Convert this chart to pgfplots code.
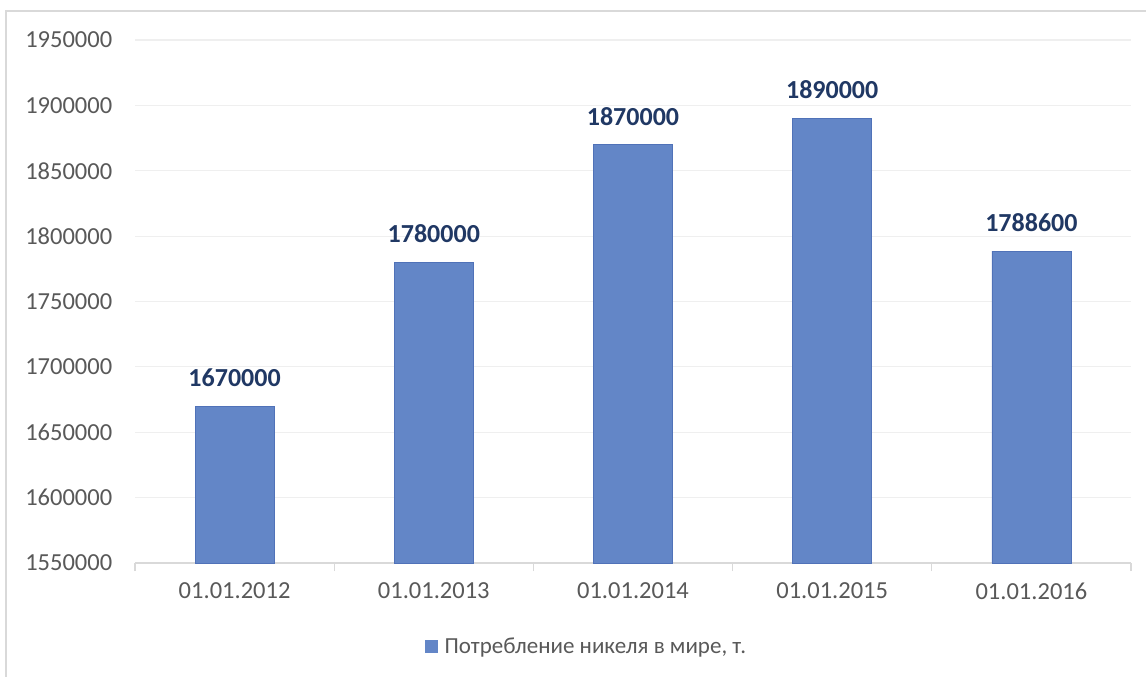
\documentclass[border=0pt]{standalone}
\usepackage{pgfplots}
\pgfplotsset{compat=1.18}
\usepackage{fontspec}
\setmainfont{Carlito}
\definecolor{barfill}{HTML}{6386C7}
\definecolor{baredge}{HTML}{5072B8}
\definecolor{lbl}{HTML}{203864}
\definecolor{tickc}{HTML}{595959}
\definecolor{axc}{HTML}{D9D9D9}
\definecolor{gridc}{HTML}{EFEFEF}
\pgfplotstableread{
x y lab
0 1670000 1670000
1 1780000 1780000
2 1870000 1870000
3 1890000 1890000
4 1788600 1788600
}\data
\begin{document}
\begin{tikzpicture}
\useasboundingbox (0pt,0pt) rectangle (1146pt,-677pt);
\fill[white] (0pt,0pt) rectangle (1146pt,-677pt);
\draw[axc, line width=2pt] (6pt,-677pt) -- (6pt,-11pt) -- (1146pt,-11pt);
\begin{axis}[
  at={(135pt,-563pt)}, anchor=south west,
  scale only axis, width=996pt, height=523pt,
  xmin=-0.5, xmax=4.5, ymin=1550000, ymax=1950000,
  axis x line*=bottom, axis y line*=left,
  x axis line style={draw=axc, line width=1.2pt, -},
  y axis line style={draw=none},
  ytick={1550000,1600000,1650000,1700000,1750000,1800000,1850000,1900000,1950000},
  yticklabels={1550000,1600000,1650000,1700000,1750000,1800000,1850000,1900000,1950000},
  ymajorgrids, grid style={draw=gridc, line width=1.2pt},
  major y tick style={draw=none},
  xtick={0,1,2,3,4},
  xticklabels={01.01.2012,01.01.2013,01.01.2014,01.01.2015,01.01.2016},
  major x tick style={draw=none},
  minor xtick={-0.5,0.5,1.5,2.5,3.5,4.5},
  minor x tick style={draw=axc, line width=1.2pt},
  minor tick length=8pt, tick align=outside,
  tick label style={font=\fontsize{24.5}{28}\selectfont, text=tickc},
  yticklabel style={xshift=-15pt},
  xticklabel style={yshift=-12pt},
  scaled y ticks=false,
  ybar, bar width=79pt,
  point meta=explicit symbolic,
  nodes near coords,
  nodes near coords style={font=\bfseries\fontsize{26}{30}\selectfont, text=lbl, anchor=south, inner sep=0pt, yshift=19pt},
  legend style={at={(0.4533,-0.1587)}, anchor=center, draw=none, fill=none,
    font=\fontsize{23}{26}\selectfont, text=tickc, column sep=5pt},
  legend image code/.code={\fill[barfill] (-6pt,-6pt) rectangle (6pt,6pt);},
  clip=false,
]
\addplot[fill=barfill, draw=baredge, line width=0.8pt] table[x=x, y=y, meta=lab] {\data};
\addlegendentry{Потребление никеля в мире, т.}
\end{axis}
\end{tikzpicture}
\end{document}
